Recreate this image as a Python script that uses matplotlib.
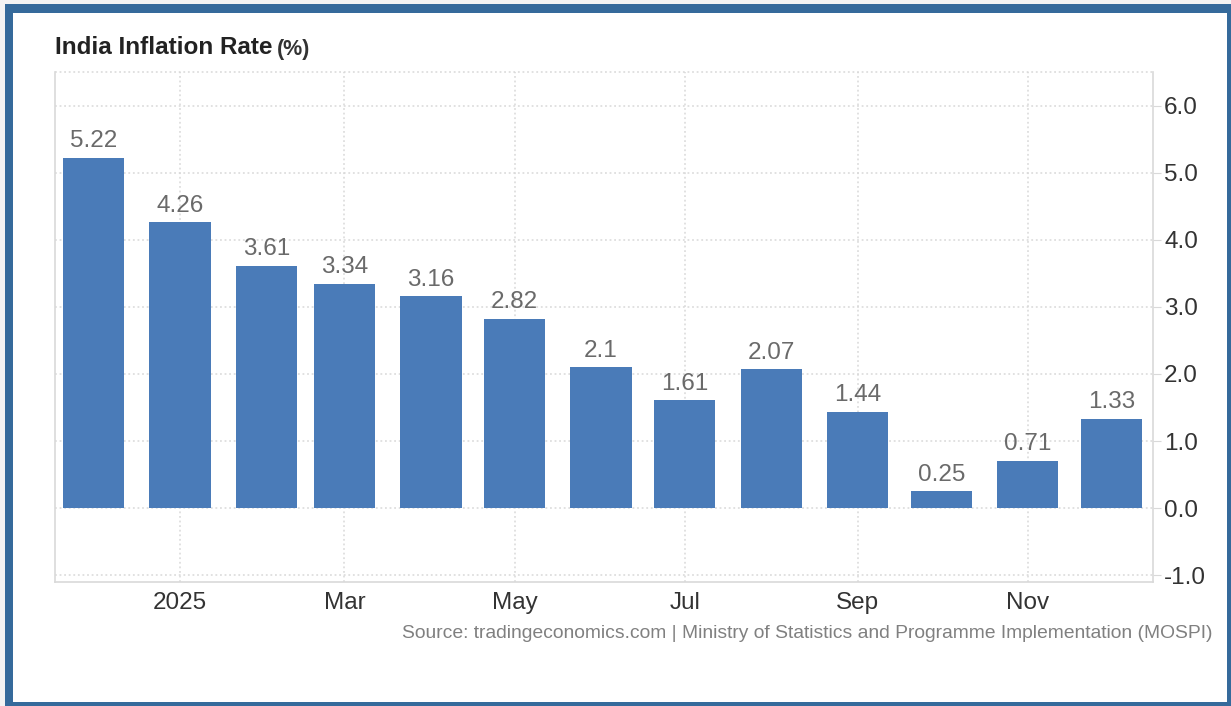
import numpy as np
import pandas as pd
import matplotlib
matplotlib.use("Agg")
import matplotlib.pyplot as plt
import matplotlib.dates as mdates
from matplotlib.patches import Rectangle

# Monthly CPI inflation, Dec 2024 .. Dec 2025
months = pd.date_range("2024-12-01", "2025-12-01", freq="MS")
inflation = [5.22, 4.26, 3.61, 3.34, 3.16, 2.82, 2.1, 1.61, 2.07, 1.44, 0.25, 0.71, 1.33]
labels = ["5.22", "4.26", "3.61", "3.34", "3.16", "2.82", "2.1", "1.61", "2.07", "1.44", "0.25", "0.71", "1.33"]
tick_dates = pd.to_datetime(["2025-01-01", "2025-03-01", "2025-05-01", "2025-07-01", "2025-09-01", "2025-11-01"])
tick_labels = ["2025", "Mar", "May", "Jul", "Sep", "Nov"]
y_ticks = [-1.0, 0.0, 1.0, 2.0, 3.0, 4.0, 5.0, 6.0]

BAR = "#4a7bb8"
FRAME = "#356a9b"
GRID = "#d9d9d9"
plt.rcParams["font.family"] = ["Liberation Sans", "DejaVu Sans"]

W, H = 1231, 706
fig = plt.figure(figsize=(W / 100, H / 100), dpi=100, facecolor="#f3f3f3")

# blue frame with white card inside
fig.patches.append(Rectangle((5 / W, 0), 1, (H - 4) / H, transform=fig.transFigure,
                             facecolor=FRAME, edgecolor="none", zorder=-10))
fig.patches.append(Rectangle((13 / W, 4 / H), (1227 - 13) / W, (702 - 13) / H,
                             transform=fig.transFigure, facecolor="white",
                             edgecolor="none", zorder=-9))

ax = fig.add_axes([55 / W, 1 - 582 / H, (1153 - 55) / W, (582 - 72) / H])
ax.set_facecolor("none")

x = mdates.date2num(months)
ax.bar(x, inflation, width=22, color=BAR, zorder=3)
for xi, v, s in zip(x, inflation, labels):
    ax.annotate(s, (xi, v), xytext=(0, 4), textcoords="offset points",
                ha="center", va="bottom", fontsize=17.5, color="#6a6a6a", zorder=4)

ax.set_xlim(mdates.date2num(pd.Timestamp("2025-01-01")) - 44.8,
            mdates.date2num(pd.Timestamp("2025-01-01")) + 348.9)
ax.set_ylim(-1.1, 6.5)

ax.set_xticks(mdates.date2num(tick_dates))
ax.set_xticklabels(tick_labels)
ax.set_yticks(y_ticks)
ax.set_yticklabels([f"{t:.1f}" for t in y_ticks])
ax.yaxis.tick_right()
ax.tick_params(axis="y", length=6, color=GRID, labelsize=17.5, labelcolor="#333333", pad=2)
ax.tick_params(axis="x", length=0, labelsize=17.5, labelcolor="#333333", pad=7)

ax.grid(True, color=GRID, linestyle=(0, (1.2, 1.8)), linewidth=1.1, zorder=0)
ax.axhline(6.5, color=GRID, linestyle=(0, (1.2, 1.8)), linewidth=1.1, zorder=0, clip_on=False)
for side in ["left", "bottom", "right"]:
    ax.spines[side].set_color(GRID)
    ax.spines[side].set_linewidth(1.2)
ax.spines["top"].set_visible(False)

title = fig.text(55 / W, 1 - 48 / H, "India Inflation Rate", fontsize=17.5, fontweight="bold",
                 color="#222222", ha="left", va="center")
renderer = fig.canvas.get_renderer()
tx1 = title.get_window_extent(renderer).x1
fig.text((tx1 + 4) / W, 1 - 49 / H, "(%)", fontsize=15.5, fontweight="bold",
         color="#333333", ha="left", va="center")
fig.text(1213 / W, 1 - 634 / H,
         "Source: tradingeconomics.com | Ministry of Statistics and Programme Implementation (MOSPI)",
         fontsize=13.9, color="#808080", ha="right", va="center")

fig.savefig("out.png", dpi=100, facecolor=fig.get_facecolor())
